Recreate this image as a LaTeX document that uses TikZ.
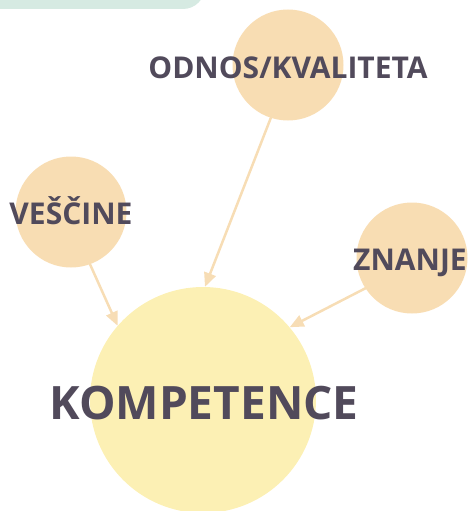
\documentclass[tikz,border=0pt]{standalone}
\usepackage{fontspec}
\setmainfont{Open Sans}
\usepackage{tikz}
\usetikzlibrary{arrows.meta}
\definecolor{wheat}{HTML}{F8DDB3}
\definecolor{lemon}{HTML}{FCF0B4}
\definecolor{mint}{HTML}{D6EAE2}
\definecolor{ink}{HTML}{514A5B}
\definecolor{arrowc}{HTML}{F7DDB5}

\begin{document}
\begin{tikzpicture}[x=1pt,y=-1pt,line cap=round,line join=round,>={Triangle[width=12pt,length=14pt]},
    small/.style={circle,fill=wheat,minimum size=111pt,inner sep=0pt},
    big/.style={circle,fill=lemon,minimum size=226pt,inner sep=0pt},
    word/.style={text=ink,anchor=base,inner sep=0pt,font=\bfseries\fontsize{30}{34}\selectfont},
    link/.style={arrowc,line width=2.5pt,->}]
    \useasboundingbox (0,0) rectangle (467,511);
    \fill[mint,rounded corners=22pt] (-30,-40) rectangle (205,9);

    \node[big] (komp) at (203,400) {};
    \node[small] (odnos) at (288,65) {};
    \node[small] (vescine) at (71,212) {};
    \node[small] (znanje) at (412,258) {};

    \draw[link] (odnos.252) -- (komp.89);
    \draw[link] (vescine.290) -- (komp.139);
    \draw[link] (znanje.213) -- (komp.40);

    \node[word] (t-odnos) at (288,78) {ODNOS/KVALITETA};
    \node[word] (t-vescine) at (71,224) {VEŠČINE};
    \node[word] (t-znanje) at (410,270) {ZNANJE};
    \node[word,font=\bfseries\fontsize{46}{50}\selectfont] (t-komp) at (204,419) {KOMPETENCE};
\end{tikzpicture}
\end{document}
